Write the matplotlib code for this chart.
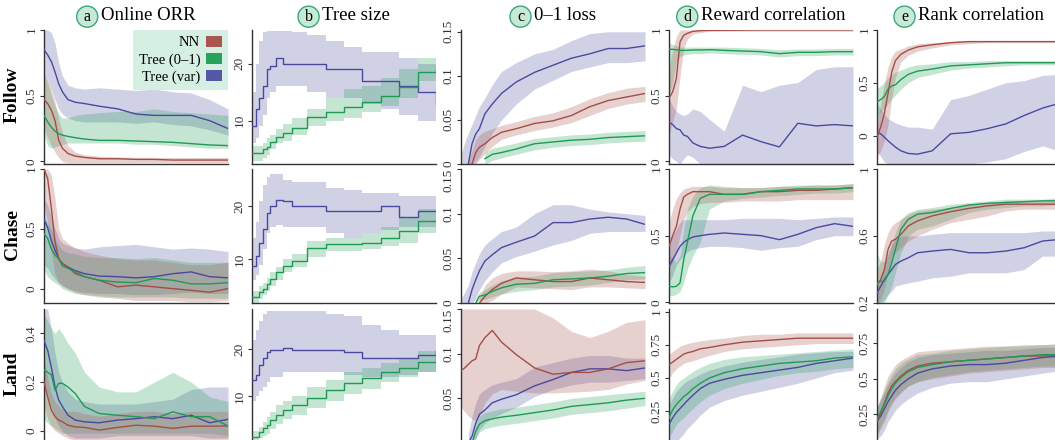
import matplotlib
matplotlib.use('Agg')
import numpy as np
import matplotlib.pyplot as plt
from matplotlib.patches import Patch

plt.rcParams['font.family'] = ['Liberation Serif', 'DejaVu Serif']

# ── shared x grid (training progress, %) ───────────────────────────────
X = [0, 2, 4, 6, 8, 10, 13, 17, 22, 30, 40, 50, 60, 70, 80, 90, 100]

ROWS = ['Follow', 'Chase', 'Land']
METRICS = ['ORR', 'SIZE', 'LOSS', 'RWD', 'RANK']
TITLES = ['Online ORR', 'Tree size', '0\u20131 loss', 'Reward correlation', 'Rank correlation']
LETTERS = ['a', 'b', 'c', 'd', 'e']
SERIES_NAMES = ['NN', 'Tree (0\u20131)', 'Tree (var)']
N = None

# ── Follow ─────────────────────────────────────────────────────────────
Follow_ORR_NN = [0.47, 0.44, 0.39, 0.31, 0.16, 0.10, 0.06, 0.04, 0.03, 0.02, 0.02, 0.015, 0.015, 0.01, 0.01, 0.01, 0.01]
Follow_ORR_NN_LO = [0.25, 0.18, 0.12, 0.07, 0.03, 0.0, -0.01, -0.01, -0.01, -0.01, -0.01, -0.01, -0.01, -0.01, -0.01, -0.01, -0.01]
Follow_ORR_NN_HI = [0.70, 0.62, 0.55, 0.45, 0.32, 0.22, 0.12, 0.07, 0.05, 0.04, 0.035, 0.03, 0.03, 0.03, 0.03, 0.03, 0.03]
Follow_ORR_T01 = [0.35, 0.30, 0.26, 0.23, 0.21, 0.20, 0.19, 0.18, 0.17, 0.16, 0.16, 0.155, 0.15, 0.145, 0.135, 0.125, 0.12]
Follow_ORR_T01_LO = [0.20, 0.12, 0.10, 0.11, 0.12, 0.13, 0.14, 0.14, 0.14, 0.14, 0.14, 0.13, 0.13, 0.12, 0.11, 0.10, 0.10]
Follow_ORR_T01_HI = [0.68, 0.60, 0.50, 0.42, 0.36, 0.33, 0.33, 0.35, 0.36, 0.37, 0.38, 0.38, 0.40, 0.38, 0.37, 0.36, 0.35]
Follow_ORR_TVAR = [0.85, 0.81, 0.76, 0.68, 0.59, 0.53, 0.47, 0.45, 0.44, 0.42, 0.40, 0.36, 0.35, 0.35, 0.35, 0.31, 0.25]
Follow_ORR_TVAR_LO = [0.70, 0.62, 0.55, 0.47, 0.40, 0.36, 0.33, 0.31, 0.30, 0.30, 0.30, 0.29, 0.30, 0.28, 0.27, 0.24, 0.20]
Follow_ORR_TVAR_HI = [1.0, 1.0, 0.98, 0.90, 0.75, 0.65, 0.58, 0.56, 0.55, 0.56, 0.55, 0.54, 0.55, 0.53, 0.52, 0.47, 0.40]

Follow_SIZE_T01 = [4.4, 4.4, 4.4, 5.0, 5.3, 6.2, 7.1, 7.9, 8.8, 10.6, 11.5, 12.4, 13.2, 14.4, 15.9, 18.5, 19.1]
Follow_SIZE_T01_LO = [3, 3, 3, 3.5, 4, 5, 6, 6.5, 7.5, 9, 10, 10.5, 11.5, 12.5, 14, 17, 17]
Follow_SIZE_T01_HI = [5.5, 5.5, 5.5, 6, 7, 7.5, 8.5, 9.5, 10.5, 12, 14, 15.5, 16, 17.5, 19, 21, 21.5]
Follow_SIZE_TVAR = [9, 12, 14, 16, 19, 19.5, 21, 20, 20, 20, 19, 19, 17, 17, 16, 15, 13]
Follow_SIZE_TVAR_LO = [6, 7, 9, 11, 14, 15, 16, 16, 16, 15, 14, 14, 13, 12, 11, 10, 9]
Follow_SIZE_TVAR_HI = [15, 20, 24, 25.5, 25.8, 25.8, 25.8, 25.8, 25.5, 25, 24, 23, 22, 22, 21, 20, 19]

Follow_LOSS_NN = [N, N, N, 0.0, 0.013, 0.019, 0.023, 0.030, 0.036, 0.040, 0.046, 0.049, 0.055, 0.065, 0.072, 0.076, 0.080]
Follow_LOSS_NN_LO = [N, N, 0, 0, 0, 0.005, 0.012, 0.020, 0.028, 0.033, 0.038, 0.042, 0.047, 0.055, 0.063, 0.068, 0.071]
Follow_LOSS_NN_HI = [N, N, 0.005, 0.015, 0.028, 0.033, 0.037, 0.040, 0.044, 0.048, 0.054, 0.058, 0.065, 0.074, 0.081, 0.086, 0.088]
Follow_LOSS_T01 = [N, N, N, N, N, N, 0.006, 0.011, 0.013, 0.017, 0.023, 0.025, 0.027, 0.028, 0.030, 0.031, 0.032]
Follow_LOSS_T01_LO = [N, N, N, N, N, N, 0.0, 0.004, 0.007, 0.011, 0.016, 0.019, 0.021, 0.022, 0.024, 0.025, 0.026]
Follow_LOSS_T01_HI = [N, N, N, N, N, N, 0.013, 0.018, 0.020, 0.024, 0.029, 0.031, 0.033, 0.034, 0.036, 0.037, 0.038]
Follow_LOSS_TVAR = [N, N, 0.0, 0.023, 0.034, 0.040, 0.057, 0.068, 0.080, 0.093, 0.104, 0.112, 0.120, 0.125, 0.131, 0.131, 0.134]
Follow_LOSS_TVAR_LO = [0, 0, 0, 0, 0.003, 0.008, 0.020, 0.035, 0.050, 0.068, 0.085, 0.095, 0.105, 0.110, 0.115, 0.115, 0.117]
Follow_LOSS_TVAR_HI = [0.010, 0.025, 0.035, 0.045, 0.055, 0.065, 0.075, 0.090, 0.105, 0.115, 0.125, 0.130, 0.140, 0.148, 0.150, 0.150, 0.150]

Follow_RWD_NN = [0.48, 0.53, 0.63, 0.91, 0.96, 0.975, 0.99, 0.995, 0.997, 0.998, 0.999, 1, 1, 1, 1, 1, 1]
Follow_RWD_NN_LO = [0.20, 0.30, 0.40, 0.65, 0.86, 0.93, 0.97, 0.98, 0.99, 0.99, 0.99, 0.99, 0.99, 0.99, 0.99, 0.99, 0.99]
Follow_RWD_NN_HI = [0.70, 0.85, 0.95, 1, 1, 1, 1, 1, 1, 1, 1, 1, 1, 1, 1, 1, 1]
Follow_RWD_T01 = [0.853, 0.853, 0.85, 0.845, 0.845, 0.845, 0.848, 0.848, 0.85, 0.845, 0.84, 0.835, 0.82, 0.83, 0.83, 0.835, 0.835]
Follow_RWD_T01_LO = [0.50, 0.60, 0.75, 0.80, 0.81, 0.815, 0.82, 0.82, 0.825, 0.82, 0.815, 0.81, 0.795, 0.805, 0.805, 0.81, 0.81]
Follow_RWD_T01_HI = [0.90, 0.89, 0.88, 0.87, 0.87, 0.87, 0.87, 0.87, 0.87, 0.87, 0.865, 0.86, 0.85, 0.855, 0.855, 0.86, 0.86]
Follow_RWD_TVAR = [0.30, 0.28, 0.25, 0.24, 0.20, 0.19, 0.14, 0.114, 0.10, 0.114, 0.20, 0.15, 0.11, 0.29, 0.27, 0.28, 0.27]
Follow_RWD_TVAR_LO = [0.05, 0.02, 0.0, -0.02, 0.02, 0.05, 0.03, -0.02, -0.02, -0.02, -0.02, -0.02, -0.02, -0.02, -0.02, -0.02, -0.02]
Follow_RWD_TVAR_HI = [0.48, 0.42, 0.38, 0.36, 0.35, 0.36, 0.40, 0.38, 0.32, 0.23, 0.58, 0.53, 0.58, 0.60, 0.70, 0.72, 0.72]

Follow_RANK_NN = [-0.016, 0.08, 0.21, 0.40, 0.60, 0.71, 0.77, 0.81, 0.84, 0.86, 0.88, 0.89, 0.89, 0.89, 0.89, 0.89, 0.89]
Follow_RANK_NN_LO = [-0.20, -0.15, -0.05, 0.10, 0.35, 0.55, 0.70, 0.76, 0.80, 0.83, 0.86, 0.87, 0.88, 0.88, 0.88, 0.88, 0.88]
Follow_RANK_NN_HI = [0.10, 0.30, 0.50, 0.65, 0.75, 0.80, 0.82, 0.85, 0.87, 0.88, 0.89, 0.90, 0.90, 0.90, 0.90, 0.90, 0.90]
Follow_RANK_T01 = [0.32, 0.34, 0.37, 0.44, 0.47, 0.48, 0.53, 0.58, 0.61, 0.63, 0.66, 0.67, 0.68, 0.69, 0.69, 0.69, 0.69]
Follow_RANK_T01_LO = [0.18, 0.22, 0.26, 0.30, 0.35, 0.38, 0.44, 0.50, 0.55, 0.58, 0.62, 0.64, 0.65, 0.66, 0.67, 0.67, 0.67]
Follow_RANK_T01_HI = [0.45, 0.47, 0.50, 0.55, 0.58, 0.60, 0.62, 0.65, 0.67, 0.68, 0.70, 0.70, 0.71, 0.71, 0.71, 0.71, 0.71]
Follow_RANK_TVAR = [0.03, 0.016, -0.016, -0.05, -0.08, -0.11, -0.145, -0.17, -0.177, -0.145, 0.016, 0.03, 0.065, 0.11, 0.19, 0.26, 0.31]
Follow_RANK_TVAR_LO = [-0.15, -0.20, -0.25, -0.27, -0.27, -0.27, -0.27, -0.27, -0.27, -0.27, -0.27, -0.27, -0.25, -0.22, -0.15, -0.10, -0.15]
Follow_RANK_TVAR_HI = [0.30, 0.25, 0.20, 0.16, 0.14, 0.12, 0.10, 0.08, 0.08, 0.06, 0.34, 0.38, 0.44, 0.50, 0.52, 0.57, 0.58]

# ── Chase ──────────────────────────────────────────────────────────────
Chase_ORR_NN = [1.0, 0.92, 0.67, 0.39, 0.25, 0.21, 0.18, 0.125, 0.10, 0.07, 0.015, 0.03, 0.015, 0.0, -0.014, -0.03, 0.0]
Chase_ORR_NN_LO = [0.70, 0.55, 0.30, 0.12, 0.05, 0.02, 0.0, -0.03, -0.05, -0.07, -0.08, -0.10, -0.10, -0.10, -0.11, -0.11, -0.10]
Chase_ORR_NN_HI = [1.0, 1.0, 0.95, 0.75, 0.50, 0.42, 0.38, 0.34, 0.31, 0.28, 0.25, 0.24, 0.24, 0.22, 0.20, 0.20, 0.22]
Chase_ORR_T01 = [0.46, 0.42, 0.33, 0.28, 0.25, 0.19, 0.17, 0.14, 0.10, 0.07, 0.055, 0.05, 0.085, 0.07, 0.04, 0.04, 0.05]
Chase_ORR_T01_LO = [0.15, 0.10, 0.07, 0.05, 0.03, 0.0, -0.02, -0.04, -0.05, -0.06, -0.07, -0.07, -0.07, -0.07, -0.08, -0.08, -0.08]
Chase_ORR_T01_HI = [0.60, 0.55, 0.50, 0.42, 0.36, 0.32, 0.30, 0.29, 0.27, 0.26, 0.26, 0.25, 0.26, 0.24, 0.22, 0.22, 0.22]
Chase_ORR_TVAR = [0.58, 0.51, 0.40, 0.32, 0.25, 0.21, 0.18, 0.15, 0.125, 0.105, 0.10, 0.09, 0.10, 0.125, 0.14, 0.10, 0.09]
Chase_ORR_TVAR_LO = [0.20, 0.17, 0.12, 0.08, 0.05, 0.03, 0.0, -0.02, -0.03, -0.04, -0.04, -0.05, -0.05, -0.04, -0.03, -0.04, -0.04]
Chase_ORR_TVAR_HI = [0.75, 0.70, 0.60, 0.50, 0.42, 0.38, 0.36, 0.34, 0.33, 0.35, 0.36, 0.37, 0.35, 0.33, 0.34, 0.33, 0.31]

Chase_SIZE_T01 = [2.8, 2.8, 3.75, 4.4, 5.3, 6.25, 7.5, 8.75, 9.7, 12.2, 12.8, 12.8, 13.1, 14, 15.3, 17.2, 17.2]
Chase_SIZE_T01_LO = [1.8, 1.8, 2.5, 3.2, 4, 5, 6, 7.5, 8.5, 10.5, 11.5, 11.5, 12, 12.5, 13, 15, 15]
Chase_SIZE_T01_HI = [4, 4, 5, 5.5, 6.5, 7.5, 8.5, 10, 11, 13.5, 14, 14, 15, 16, 18, 19.5, 19.5]
Chase_SIZE_TVAR = [8.75, 10.6, 13.1, 15.6, 18.75, 20, 21.25, 21, 20, 20, 19, 19, 19, 20, 18, 19, 19]
Chase_SIZE_TVAR_LO = [6, 7, 9, 12, 15, 16, 16.5, 16, 16, 16, 15, 14, 15, 15.5, 16, 16, 16.5]
Chase_SIZE_TVAR_HI = [14, 17, 21, 24, 25.5, 26, 26, 25, 24.5, 24.5, 23.5, 23, 22.5, 22.5, 22, 22, 22]

Chase_LOSS_NN = [N, N, N, N, N, 0.0, 0.0075, 0.015, 0.022, 0.028, 0.026, 0.024, 0.024, 0.028, 0.026, 0.024, 0.023]
Chase_LOSS_NN_LO = [N, N, N, N, N, 0, 0, 0.003, 0.010, 0.018, 0.017, 0.016, 0.015, 0.018, 0.018, 0.017, 0.016]
Chase_LOSS_NN_HI = [N, N, N, N, N, 0.005, 0.020, 0.028, 0.033, 0.036, 0.036, 0.035, 0.036, 0.038, 0.036, 0.032, 0.030]
Chase_LOSS_T01 = [N, N, N, N, 0.0, 0.0075, 0.009, 0.013, 0.017, 0.021, 0.022, 0.026, 0.027, 0.028, 0.030, 0.033, 0.034]
Chase_LOSS_T01_LO = [N, N, N, N, 0, 0.003, 0.004, 0.007, 0.010, 0.013, 0.015, 0.018, 0.019, 0.020, 0.023, 0.026, 0.027]
Chase_LOSS_T01_HI = [N, N, N, N, 0.004, 0.012, 0.015, 0.020, 0.025, 0.029, 0.030, 0.034, 0.035, 0.036, 0.037, 0.040, 0.042]
Chase_LOSS_TVAR = [N, N, 0.0, 0.015, 0.026, 0.036, 0.047, 0.054, 0.062, 0.068, 0.075, 0.090, 0.090, 0.094, 0.096, 0.094, 0.088]
Chase_LOSS_TVAR_LO = [0, 0, 0, 0, 0.005, 0.015, 0.025, 0.035, 0.045, 0.052, 0.058, 0.065, 0.070, 0.078, 0.080, 0.080, 0.080]
Chase_LOSS_TVAR_HI = [0.005, 0.012, 0.020, 0.035, 0.045, 0.055, 0.065, 0.072, 0.080, 0.085, 0.100, 0.110, 0.110, 0.105, 0.102, 0.100, 0.098]

Chase_RWD_NN = [0.42, 0.50, 0.57, 0.70, 0.79, 0.81, 0.83, 0.83, 0.83, 0.81, 0.81, 0.83, 0.83, 0.84, 0.84, 0.85, 0.86]
Chase_RWD_NN_LO = [0.25, 0.30, 0.38, 0.50, 0.62, 0.68, 0.72, 0.74, 0.75, 0.75, 0.76, 0.76, 0.76, 0.77, 0.77, 0.77, 0.77]
Chase_RWD_NN_HI = [0.60, 0.70, 0.78, 0.82, 0.85, 0.86, 0.87, 0.87, 0.87, 0.86, 0.86, 0.86, 0.87, 0.87, 0.88, 0.88, 0.89]
Chase_RWD_T01 = [0.12, 0.116, 0.12, 0.146, 0.32, 0.45, 0.65, 0.78, 0.81, 0.81, 0.81, 0.83, 0.84, 0.85, 0.85, 0.85, 0.86]
Chase_RWD_T01_LO = [0.05, 0.05, 0.06, 0.08, 0.15, 0.25, 0.35, 0.45, 0.70, 0.76, 0.78, 0.79, 0.80, 0.81, 0.82, 0.82, 0.83]
Chase_RWD_T01_HI = [0.35, 0.33, 0.30, 0.35, 0.55, 0.70, 0.80, 0.86, 0.88, 0.87, 0.86, 0.86, 0.87, 0.88, 0.88, 0.88, 0.89]
Chase_RWD_TVAR = [0.27, 0.32, 0.37, 0.42, 0.45, 0.47, 0.49, 0.50, 0.51, 0.52, 0.51, 0.50, 0.47, 0.51, 0.56, 0.59, 0.57]
Chase_RWD_TVAR_LO = [0.15, 0.20, 0.28, 0.32, 0.35, 0.38, 0.40, 0.41, 0.42, 0.42, 0.41, 0.39, 0.41, 0.42, 0.47, 0.50, 0.50]
Chase_RWD_TVAR_HI = [0.45, 0.50, 0.55, 0.60, 0.62, 0.62, 0.62, 0.62, 0.62, 0.62, 0.63, 0.63, 0.63, 0.62, 0.63, 0.64, 0.64]

Chase_RANK_NN = [0.31, 0.34, 0.40, 0.52, 0.57, 0.58, 0.61, 0.66, 0.69, 0.72, 0.745, 0.765, 0.78, 0.79, 0.79, 0.79, 0.79]
Chase_RANK_NN_LO = [0.20, 0.22, 0.28, 0.40, 0.48, 0.50, 0.53, 0.57, 0.60, 0.64, 0.68, 0.70, 0.72, 0.75, 0.76, 0.76, 0.76]
Chase_RANK_NN_HI = [0.40, 0.45, 0.55, 0.62, 0.66, 0.68, 0.70, 0.73, 0.75, 0.76, 0.77, 0.79, 0.80, 0.81, 0.81, 0.81, 0.81]
Chase_RANK_T01 = [0.32, 0.33, 0.33, 0.37, 0.44, 0.52, 0.64, 0.70, 0.73, 0.74, 0.765, 0.785, 0.795, 0.80, 0.805, 0.81, 0.81]
Chase_RANK_T01_LO = [0.15, 0.15, 0.20, 0.25, 0.30, 0.38, 0.50, 0.60, 0.64, 0.66, 0.70, 0.74, 0.76, 0.77, 0.78, 0.78, 0.79]
Chase_RANK_T01_HI = [0.50, 0.45, 0.45, 0.48, 0.55, 0.62, 0.70, 0.74, 0.76, 0.77, 0.79, 0.80, 0.81, 0.82, 0.82, 0.82, 0.83]
Chase_RANK_TVAR = [0.26, 0.30, 0.34, 0.37, 0.40, 0.43, 0.45, 0.47, 0.50, 0.51, 0.52, 0.50, 0.50, 0.51, 0.53, 0.57, 0.58]
Chase_RANK_TVAR_LO = [0.20, 0.20, 0.22, 0.25, 0.27, 0.30, 0.31, 0.32, 0.33, 0.35, 0.36, 0.38, 0.38, 0.38, 0.40, 0.48, 0.48]
Chase_RANK_TVAR_HI = [0.30, 0.35, 0.42, 0.50, 0.55, 0.58, 0.60, 0.60, 0.60, 0.61, 0.62, 0.62, 0.62, 0.62, 0.62, 0.63, 0.63]

# ── Land ───────────────────────────────────────────────────────────────
Land_ORR_NN = [0.20, 0.14, 0.085, 0.058, 0.044, 0.037, 0.023, 0.016, 0.014, 0.003, 0.014, 0.023, 0.019, 0.010, 0.019, 0.019, 0.020]
Land_ORR_NN_LO = [0.10, 0.05, 0.02, 0.0, -0.01, -0.02, -0.03, -0.04, -0.04, -0.05, -0.05, -0.05, -0.05, -0.05, -0.05, -0.05, -0.05]
Land_ORR_NN_HI = [0.30, 0.22, 0.15, 0.12, 0.10, 0.09, 0.08, 0.08, 0.07, 0.06, 0.07, 0.08, 0.08, 0.07, 0.08, 0.08, 0.08]
Land_ORR_T01 = [0.25, 0.24, 0.23, 0.167, 0.195, 0.195, 0.18, 0.153, 0.10, 0.071, 0.064, 0.058, 0.05, 0.078, 0.058, 0.058, 0.02]
Land_ORR_T01_LO = [0.05, 0.03, 0.02, 0.01, 0.0, -0.01, -0.01, -0.01, -0.01, -0.01, -0.01, -0.01, -0.01, -0.01, -0.01, -0.01, -0.02]
Land_ORR_T01_HI = [0.48, 0.45, 0.42, 0.40, 0.42, 0.40, 0.36, 0.32, 0.24, 0.18, 0.16, 0.16, 0.20, 0.24, 0.20, 0.14, 0.12]
Land_ORR_TVAR = [0.37, 0.33, 0.26, 0.18, 0.126, 0.10, 0.064, 0.044, 0.037, 0.033, 0.044, 0.05, 0.058, 0.05, 0.064, 0.033, 0.047]
Land_ORR_TVAR_LO = [0.20, 0.15, 0.10, 0.05, 0.02, 0.0, -0.02, -0.03, -0.03, -0.03, -0.02, -0.02, -0.02, -0.02, -0.02, -0.03, -0.03]
Land_ORR_TVAR_HI = [0.50, 0.50, 0.42, 0.32, 0.24, 0.20, 0.16, 0.13, 0.12, 0.11, 0.11, 0.11, 0.12, 0.13, 0.17, 0.18, 0.18]

Land_SIZE_T01 = [1.3, 1.3, 2.3, 3.2, 3.8, 4.9, 6, 7, 8.1, 9.6, 11.3, 12.8, 13.8, 15.1, 16, 17.2, 19.8]
Land_SIZE_T01_LO = [0.3, 0.3, 1, 1.5, 2, 3, 4, 5, 6, 7.5, 9, 10.5, 11.5, 13, 14, 15, 17.5]
Land_SIZE_T01_HI = [2.5, 2.5, 3.5, 4.5, 5.5, 6.5, 8, 9, 10, 12, 13.5, 15, 16, 17, 18, 19.5, 22]
Land_SIZE_TVAR = [13.4, 14.5, 16.6, 18.1, 19.4, 19.8, 19.8, 20.2, 19.8, 19.8, 19.8, 19.4, 18.1, 18.1, 18.1, 18.7, 19.4]
Land_SIZE_TVAR_LO = [9, 10, 11, 12, 13, 14, 14, 15, 15, 15, 15, 14.5, 14, 14, 14.5, 15, 15]
Land_SIZE_TVAR_HI = [22, 24, 26, 27.5, 28, 28, 28, 28, 28, 28, 27.5, 27, 25, 24, 23, 23, 23]

Land_LOSS_NN = [0.081, 0.084, 0.088, 0.092, 0.094, 0.109, 0.118, 0.126, 0.113, 0.099, 0.084, 0.077, 0.079, 0.079, 0.083, 0.090, 0.092]
Land_LOSS_NN_LO = [0.040, 0.035, 0.030, 0.027, 0.025, 0.030, 0.045, 0.055, 0.060, 0.058, 0.056, 0.056, 0.057, 0.058, 0.060, 0.066, 0.070]
Land_LOSS_NN_HI = [0.15, 0.15, 0.15, 0.15, 0.15, 0.15, 0.15, 0.15, 0.15, 0.15, 0.15, 0.14, 0.125, 0.118, 0.125, 0.135, 0.138]
Land_LOSS_T01 = [N, N, N, 0.0, 0.013, 0.021, 0.025, 0.027, 0.029, 0.031, 0.034, 0.037, 0.041, 0.043, 0.045, 0.048, 0.050]
Land_LOSS_T01_LO = [N, N, N, 0, 0.005, 0.012, 0.016, 0.018, 0.020, 0.022, 0.025, 0.028, 0.032, 0.034, 0.036, 0.039, 0.042]
Land_LOSS_T01_HI = [N, N, N, 0.005, 0.020, 0.030, 0.034, 0.036, 0.038, 0.040, 0.043, 0.046, 0.050, 0.052, 0.054, 0.056, 0.058]
Land_LOSS_TVAR = [N, N, 0.0, 0.0075, 0.022, 0.032, 0.037, 0.045, 0.049, 0.054, 0.064, 0.071, 0.079, 0.083, 0.083, 0.081, 0.084]
Land_LOSS_TVAR_LO = [N, N, 0, 0, 0.005, 0.015, 0.022, 0.028, 0.033, 0.040, 0.052, 0.060, 0.065, 0.068, 0.068, 0.070, 0.072]
Land_LOSS_TVAR_HI = [N, N, 0.010, 0.030, 0.045, 0.055, 0.060, 0.065, 0.068, 0.072, 0.085, 0.090, 0.095, 0.098, 0.098, 0.095, 0.095]

Land_RWD_NN = [0.60, 0.62, 0.64, 0.66, 0.68, 0.69, 0.70, 0.72, 0.73, 0.75, 0.77, 0.78, 0.79, 0.80, 0.80, 0.80, 0.80]
Land_RWD_NN_LO = [0.50, 0.54, 0.57, 0.59, 0.61, 0.62, 0.63, 0.65, 0.67, 0.70, 0.72, 0.73, 0.74, 0.75, 0.76, 0.76, 0.76]
Land_RWD_NN_HI = [0.68, 0.70, 0.72, 0.74, 0.75, 0.76, 0.77, 0.78, 0.79, 0.80, 0.82, 0.83, 0.83, 0.84, 0.84, 0.84, 0.84]
Land_RWD_T01 = [0.20, 0.26, 0.30, 0.33, 0.36, 0.38, 0.42, 0.46, 0.50, 0.54, 0.57, 0.59, 0.61, 0.62, 0.63, 0.65, 0.66]
Land_RWD_T01_LO = [0.05, 0.10, 0.15, 0.18, 0.20, 0.23, 0.27, 0.32, 0.37, 0.42, 0.46, 0.49, 0.52, 0.54, 0.55, 0.57, 0.58]
Land_RWD_T01_HI = [0.35, 0.40, 0.45, 0.48, 0.50, 0.52, 0.55, 0.58, 0.61, 0.64, 0.66, 0.67, 0.68, 0.69, 0.70, 0.71, 0.72]
Land_RWD_TVAR = [0.15, 0.20, 0.24, 0.27, 0.30, 0.33, 0.37, 0.42, 0.46, 0.49, 0.52, 0.54, 0.56, 0.58, 0.61, 0.63, 0.65]
Land_RWD_TVAR_LO = [0.0, 0.0, 0.02, 0.05, 0.08, 0.12, 0.16, 0.22, 0.28, 0.33, 0.37, 0.40, 0.43, 0.46, 0.50, 0.54, 0.56]
Land_RWD_TVAR_HI = [0.30, 0.35, 0.40, 0.43, 0.46, 0.48, 0.50, 0.53, 0.56, 0.59, 0.62, 0.64, 0.66, 0.68, 0.69, 0.70, 0.70]

Land_RANK_NN = [0.20, 0.26, 0.33, 0.40, 0.45, 0.48, 0.52, 0.56, 0.59, 0.61, 0.62, 0.63, 0.64, 0.65, 0.66, 0.66, 0.67]
Land_RANK_NN_LO = [0.10, 0.15, 0.20, 0.27, 0.32, 0.36, 0.40, 0.45, 0.48, 0.50, 0.52, 0.54, 0.55, 0.56, 0.57, 0.58, 0.58]
Land_RANK_NN_HI = [0.30, 0.37, 0.45, 0.52, 0.56, 0.60, 0.63, 0.66, 0.69, 0.70, 0.71, 0.72, 0.73, 0.73, 0.74, 0.74, 0.75]
Land_RANK_T01 = [0.22, 0.27, 0.32, 0.38, 0.43, 0.47, 0.51, 0.55, 0.58, 0.60, 0.62, 0.63, 0.64, 0.65, 0.66, 0.67, 0.67]
Land_RANK_T01_LO = [0.12, 0.17, 0.22, 0.28, 0.33, 0.37, 0.41, 0.45, 0.48, 0.51, 0.53, 0.55, 0.56, 0.57, 0.58, 0.59, 0.59]
Land_RANK_T01_HI = [0.30, 0.36, 0.42, 0.48, 0.53, 0.57, 0.61, 0.64, 0.67, 0.68, 0.70, 0.71, 0.72, 0.73, 0.73, 0.74, 0.74]
Land_RANK_TVAR = [0.20, 0.24, 0.29, 0.34, 0.38, 0.42, 0.46, 0.50, 0.54, 0.57, 0.59, 0.60, 0.60, 0.61, 0.63, 0.65, 0.66]
Land_RANK_TVAR_LO = [0.08, 0.10, 0.14, 0.20, 0.24, 0.28, 0.32, 0.36, 0.40, 0.44, 0.47, 0.48, 0.48, 0.50, 0.52, 0.54, 0.56]
Land_RANK_TVAR_HI = [0.30, 0.35, 0.40, 0.46, 0.50, 0.54, 0.58, 0.62, 0.65, 0.67, 0.68, 0.69, 0.70, 0.70, 0.71, 0.72, 0.72]

# ── axis limits / ticks per column (rows: Follow, Chase, Land) ───────────
YLIMS = {
    'ORR':  [(-0.02, 1.0), (-0.12, 1.0), (-0.05, 0.5)],
    'SIZE': [(2.4, 25.9), (1.75, 27.0), (0.0, 28.5)],
    'LOSS': [(0.0, 0.152), (0.0, 0.15), (0.0, 0.15)],
    'RWD':  [(-0.02, 1.0), (-0.005, 1.0), (0.01, 1.02)],
    'RANK': [(-0.27, 1.0), (0.2, 1.0), (0.05, 0.99)],
}
YTICKS = {
    'ORR':  [[0, 0.5, 1], [0, 0.5, 1], [0, 0.2, 0.4]],
    'SIZE': [[10, 20], [10, 20], [10, 20]],
    'LOSS': [[0, 0.05, 0.1, 0.15]] * 3,
    'RWD':  [[0, 0.5, 1], [0, 0.5, 1], [0.25, 0.5, 0.75, 1]],
    'RANK': [[0, 0.5, 1], [0.2, 0.6, 1], [0.25, 0.5, 0.75]],
}

COLORS = {'NN': '#a44d47', 'T01': '#1f9a55', 'TVAR': '#4b48a0'}
PATCH_COLORS = {'NN': '#a8564f', 'T01': '#25a25c', 'TVAR': '#5756a6'}
SERIF = ['Liberation Serif', 'DejaVu Serif']

W, H = 1055, 440
COL_LEFT = [44, 252, 461, 669, 877]
ROW_TOP = [30, 169, 309]
AX_W, AX_H = 184, 134


def _series(row, met, key):
    base = f'{row}_{met}_{key}'
    g = globals()
    if base not in g:
        return None
    arr = lambda v: np.array([np.nan if a is None else a for a in v], dtype=float)
    return arr(g[base]), arr(g[base + '_LO']), arr(g[base + '_HI'])


fig = plt.figure(figsize=(W / 100, H / 100), dpi=100, facecolor='white')
axes = {}
for r, row in enumerate(ROWS):
    for c, met in enumerate(METRICS):
        rect = [COL_LEFT[c] / W, 1 - (ROW_TOP[r] + AX_H) / H, AX_W / W, AX_H / H]
        ax = fig.add_axes(rect)
        axes[(r, c)] = ax
        step = met == 'SIZE'
        for key in ['TVAR', 'T01', 'NN']:
            s = _series(row, met, key)
            if s is None:
                continue
            mean, lo, hi = s
            ax.fill_between(X, lo, hi, color=PATCH_COLORS[key], alpha=0.27,
                            linewidth=0, step='post' if step else None, zorder=1)
        for key in ['TVAR', 'NN', 'T01']:
            s = _series(row, met, key)
            if s is None:
                continue
            ax.plot(X, s[0], color=COLORS[key], linewidth=1.0,
                    drawstyle='steps-post' if step else 'default', zorder=3)

        ax.set_xlim(0, 100)
        lo_lim, hi_lim = YLIMS[met][r]
        ax.set_ylim(lo_lim, hi_lim)
        ticks = YTICKS[met][r]
        ax.set_yticks(ticks)
        labels = ax.set_yticklabels(['%g' % t for t in ticks], rotation=90,
                                    va='center', family=SERIF, fontsize=9.5)
        # a long label sitting right on the top of a lower panel hangs
        # downward so it stays clear of the panel above
        if met == 'LOSS' and r > 0 and ticks[-1] == hi_lim:
            labels[-1].set_va('top')
        ax.set_xticks([])
        for side in ('top', 'right'):
            ax.spines[side].set_visible(False)
        for side in ('left', 'bottom'):
            ax.spines[side].set_color('#333333')
            ax.spines[side].set_linewidth(1.0)
        ax.tick_params(axis='y', length=3, width=0.8, pad=1.5, colors='#333333')
        ax.set_facecolor('none')

# ── legend in first panel ──────────────────────────────────────────────
handles = [Patch(facecolor=PATCH_COLORS[k], edgecolor='none') for k in ['NN', 'T01', 'TVAR']]
leg = axes[(0, 0)].legend(handles, SERIES_NAMES, loc='upper right', markerfirst=False,
                          frameon=True, facecolor='#d5efe3', edgecolor='none',
                          framealpha=1, fancybox=False, borderaxespad=0,
                          borderpad=0.4, labelspacing=0.25, handletextpad=0.4,
                          handlelength=1.1, handleheight=0.75,
                          prop={'family': SERIF, 'size': 10.5})
leg.set_zorder(5)

# ── row labels ─────────────────────────────────────────────────────────
for r, row in enumerate(ROWS):
    yc = 1 - (ROW_TOP[r] + AX_H / 2 - 2) / H
    fig.text(12 / W, yc, row, rotation=90, ha='center', va='center',
             fontsize=14, fontweight='bold', family=SERIF)

# ── column titles with circled letters ─────────────────────────────────
fig.canvas.draw()
renderer = fig.canvas.get_renderer()
for c, (letter, title) in enumerate(zip(LETTERS, TITLES)):
    ax = axes[(0, c)]
    y = 1 + 14 / AX_H
    t = ax.text(0.5, y, title, transform=ax.transAxes, ha='left', va='center',
                fontsize=13.5, family=SERIF)
    b = ax.text(0.5, y - 0.005, letter, transform=ax.transAxes, ha='center', va='center',
                fontsize=11.5, family=SERIF,
                bbox=dict(boxstyle='circle,pad=0.16', facecolor='#c6ead7',
                          edgecolor='#3aa876', linewidth=1.0))
    fig.canvas.draw()
    wt = t.get_window_extent(renderer).width
    wc = b.get_bbox_patch().get_window_extent(renderer).width
    gap = 3
    total = wc + gap + wt
    start = 0.5 - total / 2 / AX_W
    b.set_x(start + wc / 2 / AX_W)
    t.set_x(start + (wc + gap) / AX_W)

fig.savefig('out.png', dpi=100, facecolor='white')
